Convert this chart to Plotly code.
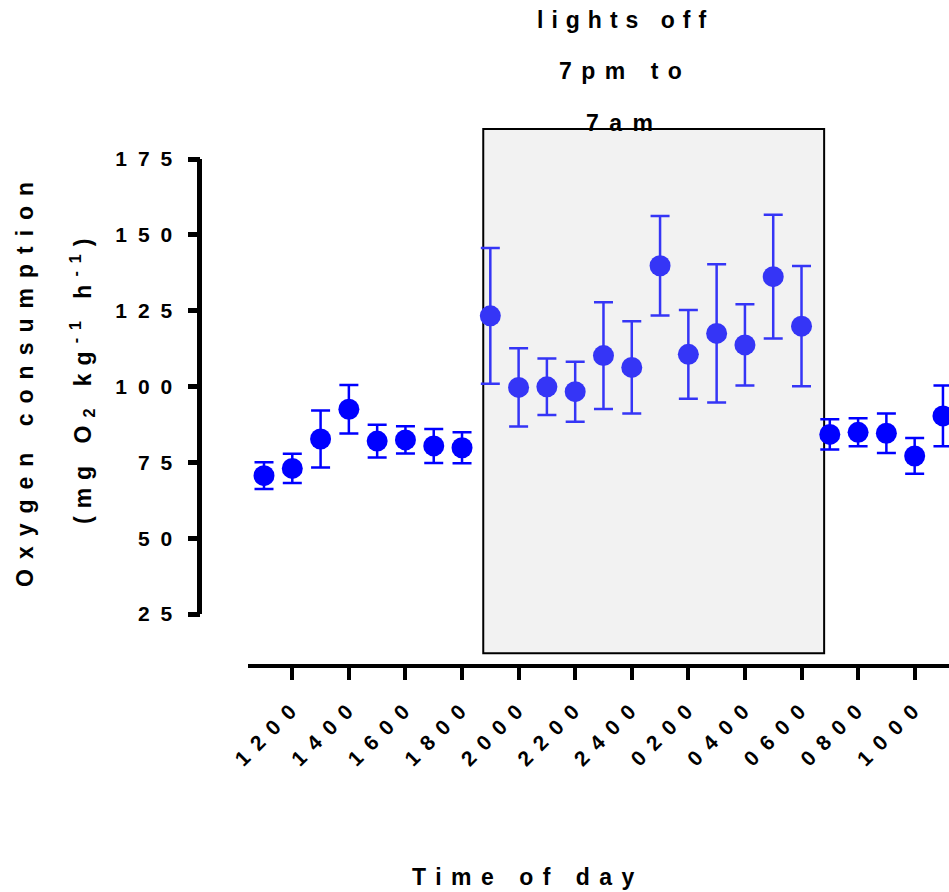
import plotly.graph_objects as go

# ---------------- data ----------------
time_labels = ["1100", "1200", "1300", "1400", "1500", "1600", "1700", "1800",
               "1900", "2000", "2100", "2200", "2300", "2400", "0100", "0200",
               "0300", "0400", "0500", "0600", "0700", "0800", "0900", "1000", "1100"]
mean_vo2 = [70.6, 73.0, 82.7, 92.5, 82.0, 82.4, 80.4, 79.8,
            123.3, 99.7, 99.9, 98.3, 110.2, 106.3, 139.8, 110.6,
            117.5, 113.7, 136.2, 119.9, 84.2, 84.9, 84.6, 77.1, 90.3]
sem_vo2 = [4.4, 4.8, 9.4, 8.0, 5.4, 4.5, 5.6, 5.1,
           22.4, 12.9, 9.3, 9.9, 17.6, 15.2, 16.4, 14.6,
           22.8, 13.4, 20.4, 19.8, 5.0, 4.6, 6.5, 5.9, 10.0]
tick_index = [1, 3, 5, 7, 9, 11, 13, 15, 17, 19, 21, 23]
tick_labels = ["1200", "1400", "1600", "1800", "2000", "2200",
               "2400", "0200", "0400", "0600", "0800", "1000"]
y_ticks = [25, 50, 75, 100, 125, 150, 175]
lights_off_start = 7.75   # x position (hours after 1100) of lights-off box
lights_off_end = 19.8
box_bottom, box_top = 12.1, 184.9
segments = [(0, 8, "#0000ff"), (8, 20, "#3535f6"), (20, 25, "#0000ff")]

# ---------------- geometry ----------------
OFF = 0                 # body margin removed by post_script
W, H = 949, 892
FONT = "Liberation Sans, Arial, sans-serif"


def spaced(t, ls=10):
    return f'<span style="letter-spacing:{ls}px">{t}</span>'


def fx(p):
    return (p - OFF) / W


def fy(p):
    return 1 - (p - OFF) / H


x_pos = list(range(len(time_labels)))
px_per_hr = 28.29
x0_px = 264.0
px_per_unit = (614 - 159) / 150.0
y_bot_px, y_top_px = 664, 110
y_range = [175 - (y_bot_px - 159) / px_per_unit, 175 + (159 - y_top_px) / px_per_unit]
x_range = [(248 - x0_px) / px_per_hr, (W + OFF - x0_px) / px_per_hr]

fig = go.Figure()
for a, b, col in segments:
    fig.add_trace(go.Scatter(
        x=x_pos[a:b], y=mean_vo2[a:b], mode="markers",
        marker=dict(size=21, color=col, line=dict(width=0)),
        error_y=dict(type="data", array=sem_vo2[a:b], color=col, thickness=2.5, width=9.5),
        cliponaxis=False, showlegend=False, hoverinfo="skip",
    ))

# lights-off box
fig.add_shape(type="rect", xref="x", yref="y",
              x0=lights_off_start, x1=lights_off_end, y0=box_bottom, y1=box_top,
              fillcolor="#f2f2f2", line=dict(color="black", width=2), layer="below")
# y axis line (offset Prism style)
fig.add_shape(type="line", xref="paper", yref="y",
              x0=fx(199.5), x1=fx(199.5), y0=y_ticks[0], y1=y_ticks[-1],
              line=dict(color="black", width=5))

fig.update_layout(
    width=W, height=H, margin=dict(l=0, r=0, t=0, b=0, autoexpand=False),
    paper_bgcolor="white", plot_bgcolor="white",
    font=dict(family=FONT, color="black", size=21, weight=700),
    xaxis=dict(domain=[fx(248), 1], range=x_range, anchor="y", automargin=False,
               showgrid=False, zeroline=False, showline=True, linecolor="black", linewidth=4,
               ticks="outside", ticklen=12, tickwidth=4, tickcolor="black",
               tickmode="array", tickvals=tick_index, ticktext=[spaced(t, 10) for t in tick_labels],
               tickangle=-45, ticklabelstandoff=4, ticklabelshift=5,
               tickfont=dict(size=21, family=FONT, weight=700)),
    yaxis=dict(domain=[fy(y_bot_px), fy(y_top_px)], range=y_range, anchor="free", position=fx(199.5),
               automargin=False,
               showgrid=False, zeroline=False, showline=False,
               ticks="outside", ticklen=12, tickwidth=5, tickcolor="black",
               tickmode="array", tickvals=y_ticks, ticktext=[spaced(str(v), 11) for v in y_ticks],
               tickfont=dict(size=21, family=FONT, weight=700)),
)

ann_font = dict(family=FONT, size=23, color="black", weight=700)
for txt, ls, ycen in [("lights off", 8, 20), ("7pm to", 9.5, 71), ("7am", 10.5, 123)]:
    fig.add_annotation(text=spaced(txt, ls), xref="paper", yref="paper", x=fx(625), y=fy(ycen),
                       xanchor="center", yanchor="middle", showarrow=False, font=ann_font)
fig.add_annotation(text=spaced("Time of day", 9.5), xref="paper", yref="paper", x=fx(528), y=fy(877),
                   xanchor="center", yanchor="middle", showarrow=False, font=ann_font)
fig.add_annotation(text=spaced("Oxygen consumption"), xref="paper", yref="paper", x=fx(25), y=fy(380),
                   xanchor="center", yanchor="middle", textangle=-90, showarrow=False, font=ann_font)
fig.add_annotation(text=spaced("(mg O<sub>2</sub> kg<sup>-1</sup> h<sup>-1</sup>)", 8), xref="paper",
                   yref="paper", x=fx(82), y=fy(378), xanchor="center", yanchor="middle", textangle=-90,
                   showarrow=False, font=ann_font)

fig.write_html("out.html", config={"displayModeBar": False, "staticPlot": True},
               post_script="document.body.style.margin='0px';document.body.style.overflow='hidden';")
